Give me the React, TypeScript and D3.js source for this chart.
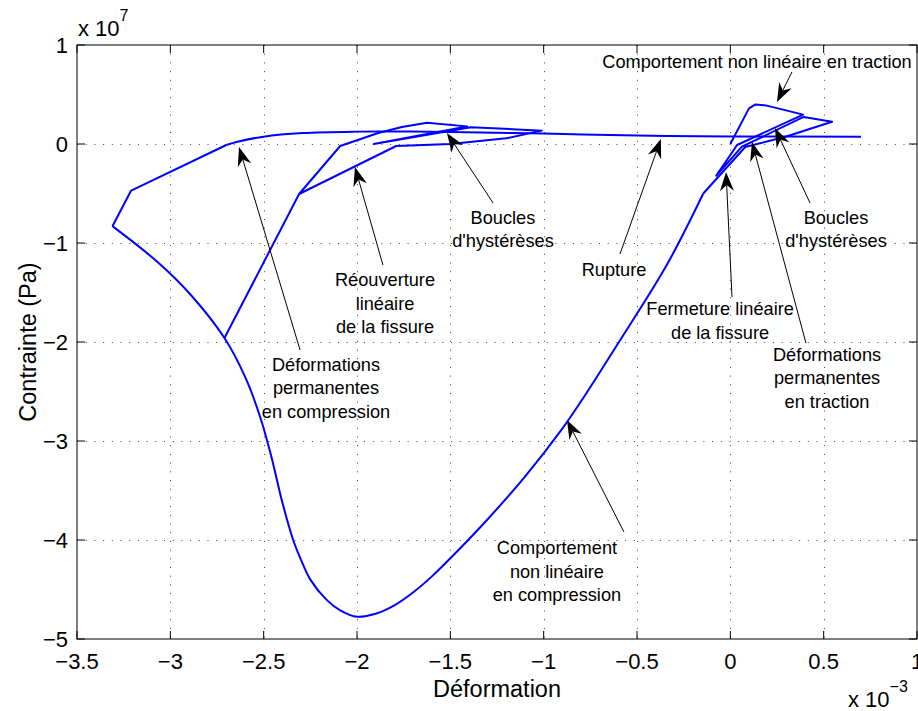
import React from 'react';
import * as d3 from 'd3';

// Strain in units of 1e-3, stress in units of 1e7 Pa
const tractionStrain = [0, 0.10, 0.135, 0.19, 0.39, 0.036, -0.075, 0.062, 0.393, 0.545, 0.30, 0.08];
const tractionStress = [0, 0.36, 0.40, 0.39, 0.297, -0.01, -0.32, -0.027, 0.273, 0.225, 0.075, -0.03];

const compressionStrain = [-0.145, -0.34, -0.6, -0.8, -0.9, -1.1, -1.3, -1.5, -1.6, -1.7, -1.8, -1.9, -2.0, -2.09, -2.16, -2.25, -2.30, -2.34, -2.40, -2.46, -2.52, -2.60, -2.71];
const compressionStress = [-0.50, -1.22, -2.01, -2.60, -2.875, -3.36, -3.79, -4.185, -4.37, -4.53, -4.66, -4.745, -4.775, -4.71, -4.61, -4.40, -4.20, -4.01, -3.62, -3.15, -2.75, -2.35, -1.96];

const loopStrain = [-2.31, -2.09, -1.886, -1.759, -1.625, -1.41, -1.91, -1.39, -1.01, -1.20, -1.5, -1.79, -2.31, -2.71];
const loopStress = [-0.505, -0.02, 0.111, 0.172, 0.215, 0.178, 0.0, 0.17, 0.135, 0.058, 0.0, -0.02, -0.505, -1.96];

const softeningStrain = [-2.89, -3.07, -3.31];
const softeningStress = [-1.525, -1.19, -0.83];

const unloadStrain = [-3.21, -2.70];
const unloadStress = [-0.47, -0.01];

const ruptureStrain = [-2.64, -2.5, -2.29, -2.0, -1.77, -1.5, -1.0, -0.5, 0.0, 0.7];
const ruptureStress = [0.023, 0.074, 0.11, 0.125, 0.126, 0.12, 0.105, 0.085, 0.077, 0.074];

const xTicks = [-3.5, -3, -2.5, -2, -1.5, -1, -0.5, 0, 0.5, 1];
const yTicks = [-5, -4, -3, -2, -1, 0, 1];

// Annotations: text lines, text anchor (data), arrow start and tip (data)
const annotationLines = [
  ['Comportement non linéaire en traction'],
  ['Boucles', "d'hystérèses"],
  ['Déformations', 'permanentes', 'en traction'],
  ['Fermeture linéaire', 'de la fissure'],
  ['Rupture'],
  ['Boucles', "d'hystérèses"],
  ['Réouverture', 'linéaire', 'de la fissure'],
  ['Déformations', 'permanentes', 'en compression'],
  ['Comportement', 'non linéaire', 'en compression'],
];
const annotationTextX = [0.143, 0.566, 0.518, -0.055, -0.623, -1.218, -1.85, -2.166, -0.929];
const annotationTextY = [0.828, -0.747, -2.131, -1.667, -1.273, -0.747, -1.374, -2.232, -4.081];
const arrowStartX = [0.330, 0.427, 0.405, 0.009, -0.591, -1.271, -1.861, -2.305, -0.570];
const arrowStartY = [0.727, -0.596, -2.01, -1.545, -1.111, -0.596, -1.222, -2.081, -3.919];
const arrowTipX = [0.250, 0.239, 0.116, -0.023, -0.372, -1.518, -2.011, -2.632, -0.875];
const arrowTipY = [0.424, 0.162, 0.02, -0.283, 0.05, 0.111, -0.232, -0.03, -2.788];

const W = 918;
const H = 711;
const L = 77, R = 917, T = 45, B = 639;
const FONT = '"Liberation Sans", Arial, Helvetica, sans-serif';

const fmt = (v: number) => String(v).replace('-', '\u2212');
const zip = (a: number[], b: number[]): [number, number][] => a.map((v, i) => [v, b[i]]);
const last = (a: number[]) => a[a.length - 1];

function Arrow({ x1, y1, x2, y2 }: { x1: number; y1: number; x2: number; y2: number }) {
  const ang = Math.atan2(y2 - y1, x2 - x1);
  const ux = Math.cos(ang), uy = Math.sin(ang);
  const px = -uy, py = ux;
  const len = 19, hw = 7, notch = 13;
  const bx = x2 - ux * len, by = y2 - uy * len;
  const nx = x2 - ux * notch, ny = y2 - uy * notch;
  const d = `M${x2},${y2}L${bx + px * hw},${by + py * hw}L${nx},${ny}L${bx - px * hw},${by - py * hw}Z`;
  return (
    <g>
      <line x1={x1} y1={y1} x2={nx} y2={ny} stroke="#000" strokeWidth={1} />
      <path d={d} fill="#000" />
    </g>
  );
}

export default function App() {
  const x = d3.scaleLinear().domain([-3.5, 1]).range([L, R]);
  const y = d3.scaleLinear().domain([-5, 1]).range([B, T]);

  const linear = d3.line<[number, number]>().x(d => x(d[0])).y(d => y(d[1])).curve(d3.curveLinear);
  const smooth = d3.line<[number, number]>().x(d => x(d[0])).y(d => y(d[1])).curve(d3.curveCatmullRom.alpha(0.5));

  const pieces: { pts: [number, number][]; gen: typeof linear }[] = [
    { pts: [...zip(tractionStrain, tractionStress), [compressionStrain[0], compressionStress[0]]], gen: linear },
    { pts: [...zip(compressionStrain, compressionStress), ...zip(softeningStrain, softeningStress)], gen: smooth },
    { pts: [[last(compressionStrain), last(compressionStress)], ...zip(loopStrain, loopStress)], gen: linear },
    { pts: [[last(softeningStrain), last(softeningStress)], ...zip(unloadStrain, unloadStress)], gen: linear },
    { pts: [[last(unloadStrain), last(unloadStress)], ...zip(ruptureStrain, ruptureStress)], gen: smooth },
  ];

  const tickLen = 8;

  return (
    <svg width={W} height={H} style={{ position: 'absolute', left: 0, top: 0, background: '#fff' }} fontFamily={FONT}>
      <rect x={0} y={0} width={W} height={H} fill="#fff" />
      {/* grid */}
      {xTicks.slice(1, -1).map(t => (
        <line key={'gx' + t} x1={Math.round(x(t)) + 0.5} x2={Math.round(x(t)) + 0.5} y1={T} y2={B}
          stroke="#444" strokeWidth={1} strokeDasharray="1 7.7" />
      ))}
      {yTicks.slice(1, -1).map(t => (
        <line key={'gy' + t} y1={Math.round(y(t)) + 0.5} y2={Math.round(y(t)) + 0.5} x1={L} x2={R}
          stroke="#444" strokeWidth={1} strokeDasharray="1 7.7" />
      ))}
      {/* ticks */}
      {xTicks.map(t => (
        <g key={'tx' + t}>
          <line x1={x(t)} x2={x(t)} y1={B} y2={B - tickLen} stroke="#000" />
          <line x1={x(t)} x2={x(t)} y1={T} y2={T + tickLen} stroke="#000" />
          <text x={x(t)} y={B + 30} textAnchor="middle" fontSize={22} fill="#000">{fmt(t)}</text>
        </g>
      ))}
      {yTicks.map(t => (
        <g key={'ty' + t}>
          <line x1={L} x2={L + tickLen} y1={y(t)} y2={y(t)} stroke="#000" />
          <line x1={R} x2={R - tickLen} y1={y(t)} y2={y(t)} stroke="#000" />
          <text x={L - 9} y={y(t) + 8} textAnchor="end" fontSize={22} fill="#000">{fmt(t)}</text>
        </g>
      ))}
      {/* box */}
      <rect x={L} y={T} width={R - L} height={B - T} fill="none" stroke="#000" strokeWidth={1} />
      {/* curve */}
      {pieces.map((p, i) => (
        <path key={'c' + i} d={p.gen(p.pts) || ''} fill="none" stroke="#0000ff" strokeWidth={2} strokeLinejoin="round" />
      ))}
      {/* annotations */}
      {annotationLines.map((lines, i) => (
        <g key={'an' + i}>
          <Arrow x1={x(arrowStartX[i])} y1={y(arrowStartY[i])} x2={x(arrowTipX[i])} y2={y(arrowTipY[i])} />
          {lines.map((s, j) => (
            <text key={j} x={x(annotationTextX[i])} y={y(annotationTextY[i]) + 6 + j * 23.5}
              textAnchor="middle" fontSize={18.2} fill="#000">{s}</text>
          ))}
        </g>
      ))}
      {/* exponents */}
      <text x={78} y={36} fontSize={22} fill="#000">x 10<tspan dy={-15} fontSize={16}>7</tspan></text>
      <text x={848} y={707} fontSize={22} fill="#000">x 10<tspan dy={-15} fontSize={16}>{'\u22123'}</tspan></text>
      {/* axis labels */}
      <text x={497} y={697} textAnchor="middle" fontSize={23.5} fill="#000">Déformation</text>
      <text transform={`translate(36,${(T + B) / 2}) rotate(-90)`} textAnchor="middle" fontSize={23.5} fill="#000">Contrainte (Pa)</text>
    </svg>
  );
}
